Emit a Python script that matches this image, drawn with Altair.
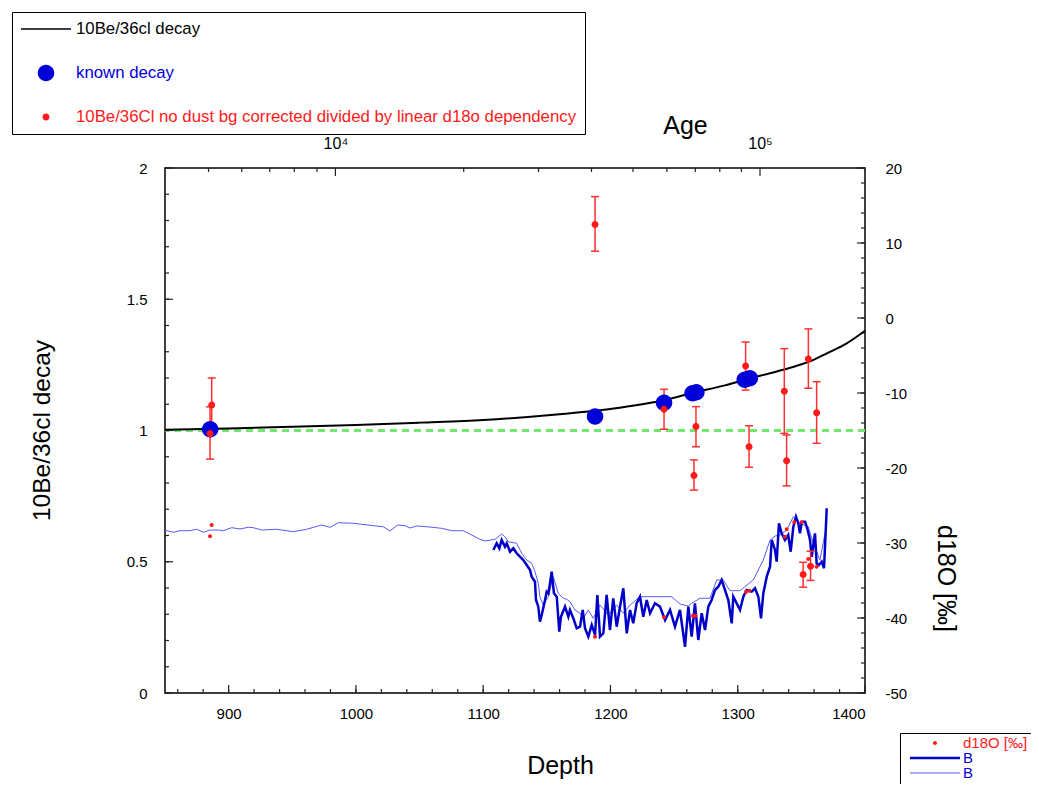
import altair as alt
import pandas as pd

FONT = "Liberation Sans"
RED = "#ff1a1a"
ERR_RED = "#ff3030"
BLUE = "#0000d8"
LINE_DARK = "#0000c8"
LINE_LIGHT = "#5a5af0"
GREEN = "#70e870"
TICK = "#222222"

L_DECAY = "10Be/36cl decay"
L_KNOWN = "known decay"
L_RED = "10Be/36Cl no dust bg corrected divided by linear d18o dependency"
L_D18O = "d18O [‰]"
L_B1 = "B1"
L_B2 = "B2"

# ---- 10Be/36Cl decay curve ----
curve_depth = [850, 900, 950, 1000, 1050, 1100, 1160, 1200, 1240, 1265, 1290, 1307, 1330, 1344, 1360, 1370, 1385, 1400]
curve_val = [1.003, 1.008, 1.014, 1.021, 1.030, 1.040, 1.062, 1.082, 1.113, 1.144, 1.172, 1.195, 1.224, 1.243, 1.270, 1.294, 1.330, 1.380]

# ---- known decay points ----
known_depth = [885.5, 1187.9, 1242.1, 1264.5, 1267.5, 1305.5, 1309.5]
known_val = [1.005, 1.053, 1.106, 1.142, 1.146, 1.193, 1.199]

# ---- 10Be/36Cl measurements with error bars ----
be_depth = [886.7, 885.4, 1187.9, 1242.1, 1267.2, 1265.6, 1306.2, 1308.9, 1336.6, 1338.4, 1355.5, 1362.0, 1351.4, 1357.2]
be_val = [1.097, 0.989, 1.785, 1.081, 1.015, 0.829, 1.246, 0.938, 1.150, 0.885, 1.272, 1.068, 0.451, 0.483]
be_lo = [1.000, 0.891, 1.683, 1.005, 0.938, 0.773, 1.154, 0.860, 0.989, 0.789, 1.161, 0.951, 0.403, 0.429]
be_hi = [1.200, 1.090, 1.891, 1.157, 1.091, 0.888, 1.337, 1.018, 1.312, 0.983, 1.387, 1.186, 0.498, 0.540]

# ---- d18O at sample depths ----
d18o_pt_depth = [886.7, 885.4, 1187.9, 1242.1, 1264.8, 1266.8, 1306.5, 1309.1, 1337.1, 1338.5, 1344.4, 1350.3, 1355.4, 1362.0]
d18o_pt_val = [-27.6, -29.11, -42.49, -39.91, -39.7, -39.7, -36.53, -36.36, -29.16, -28.17, -27.24, -27.24, -32.13, -33.16]

# ---- d18O record, low resolution (thin line) ----
thin = [(850.0, -28.3), (856.5, -28.57), (861.8, -28.36), (869.6, -28.36), (874.9, -28.17), (880.1, -28.57),
        (885.4, -28.27), (891.9, -28.27), (895.8, -28.36), (902.4, -27.96), (908.9, -28.13), (915.4, -27.91),
        (919.4, -27.96), (926.0, -28.27), (937.8, -28.17), (950.8, -28.49), (961.3, -28.17), (973.1, -27.6),
        (979.6, -27.91), (986.2, -27.29), (997.9, -27.37), (1004.6, -27.51), (1013.7, -27.69), (1021.5, -27.83),
        (1026.8, -28.4), (1032.8, -27.6), (1038.6, -27.69), (1042.5, -28.0), (1047.8, -27.73), (1055.6, -27.83),
        (1067.4, -28.04), (1075.3, -28.36), (1084.4, -28.36), (1097.5, -29.51), (1101.4, -29.73), (1109.3, -29.51),
        (1114.5, -28.8), (1117.1, -29.16), (1119.7, -29.83), (1126.3, -30.04), (1130.3, -31.37), (1134.2, -32.27),
        (1138.1, -32.71), (1140.7, -33.83), (1143.3, -35.37), (1144.6, -37.16), (1147.2, -38.27), (1151.2, -37.16),
        (1155.1, -34.49), (1159.0, -36.71), (1162.9, -37.37), (1165.6, -37.51), (1168.2, -37.83), (1172.1, -38.93),
        (1176.1, -39.37), (1178.7, -40.04), (1182.6, -38.93), (1186.5, -40.04), (1191.8, -38.27), (1198.3, -39.6),
        (1204.9, -38.27), (1210.1, -39.37), (1215.4, -38.27), (1223.2, -37.16), (1248.1, -37.16), (1254.6, -38.13),
        (1261.2, -38.4), (1263.8, -38.04), (1270.4, -37.37), (1278.2, -37.37), (1283.5, -34.93), (1288.6, -34.93),
        (1293.9, -36.36), (1301.8, -36.36), (1312.2, -34.93), (1320.1, -32.27), (1325.4, -29.6), (1329.3, -29.07),
        (1333.2, -28.93), (1338.5, -28.27), (1343.7, -26.49), (1348.9, -27.37), (1355.4, -27.83), (1359.4, -30.04),
        (1364.6, -32.27), (1368.6, -28.71)]

# ---- d18O record, high resolution (thick line) ----
thick = [(1108.0, -30.93), (1110.6, -30.04), (1112.7, -30.71), (1114.5, -29.6), (1117.1, -30.49), (1118.5, -30.04),
         (1121.1, -31.16), (1123.7, -30.71), (1126.3, -31.37), (1128.9, -31.83), (1131.5, -32.27), (1134.2, -32.93),
         (1136.8, -33.6), (1138.1, -34.49), (1140.7, -35.16), (1141.5, -37.6), (1143.3, -38.49), (1144.6, -40.49),
         (1146.0, -39.6), (1148.6, -37.6), (1149.9, -36.49), (1151.2, -36.71), (1152.5, -35.37), (1153.8, -33.83),
         (1155.6, -36.71), (1157.8, -37.16), (1159.8, -41.83), (1161.1, -39.83), (1164.3, -38.49), (1166.9, -39.83),
         (1168.2, -38.93), (1170.8, -40.04), (1173.5, -41.37), (1176.1, -41.16), (1178.2, -38.93), (1180.0, -41.37),
         (1182.6, -42.49), (1185.3, -40.93), (1187.9, -42.27), (1189.7, -36.93), (1191.8, -42.49), (1194.4, -42.04),
         (1197.0, -36.93), (1199.6, -41.6), (1202.2, -37.37), (1204.9, -41.16), (1207.5, -38.49), (1210.1, -36.04),
         (1212.8, -42.04), (1215.4, -38.93), (1217.9, -40.71), (1220.6, -38.04), (1223.2, -37.16), (1225.8, -39.83),
         (1228.5, -37.6), (1231.1, -39.37), (1235.0, -38.04), (1238.9, -38.49), (1242.9, -40.27), (1246.8, -38.93),
         (1250.7, -41.16), (1254.6, -38.93), (1258.6, -43.83), (1261.2, -38.49), (1263.8, -42.49), (1266.4, -38.04),
         (1269.0, -42.93), (1271.7, -39.37), (1274.3, -41.6), (1276.9, -38.49), (1279.5, -37.6), (1282.1, -36.27),
         (1284.7, -35.83), (1287.4, -34.93), (1290.0, -36.27), (1292.6, -37.6), (1295.3, -40.71), (1296.5, -37.16),
         (1299.2, -38.04), (1301.8, -38.93), (1304.4, -37.16), (1307.0, -36.27), (1311.0, -36.49), (1313.6, -36.04),
         (1316.2, -37.16), (1318.3, -40.04), (1320.1, -36.71), (1322.8, -34.49), (1325.4, -33.16), (1326.7, -29.6),
         (1329.3, -30.93), (1330.6, -32.49), (1332.4, -27.37), (1334.5, -28.71), (1337.1, -29.6), (1339.7, -28.93),
         (1341.6, -31.16), (1343.7, -27.83), (1345.8, -26.49), (1347.6, -27.37), (1348.9, -28.71), (1350.3, -27.16),
         (1352.9, -27.16), (1354.6, -28.04), (1356.8, -29.6), (1358.1, -31.83), (1360.7, -28.71), (1362.0, -32.71),
         (1363.8, -32.93), (1366.0, -32.49), (1367.8, -33.37), (1369.4, -27.37), (1369.9, -25.37)]

# ---- axis ticks ----
depth_major = [900, 1000, 1100, 1200, 1300, 1400]
depth_minor = list(range(860, 1401, 20))
left_major = [0, 0.5, 1, 1.5, 2]
left_minor = [round(i * 0.1, 1) for i in range(0, 21)]
right_major = [-50, -40, -30, -20, -10, 0, 10, 20]
right_minor = list(range(-50, 21, 2))
age_major_depth = [983.9, 1317.5]
age_major_label = ["10⁴", "10⁵"]
age_minor_depth = [884.2, 910.3, 932.3, 951.6, 969.4, 1084.7, 1143.5, 1185.1, 1217.7, 1244.3, 1266.7, 1285.9, 1302.9]

# ---- tables ----
df_curve = pd.DataFrame({"depth": curve_depth, "value": curve_val})
df_pts = pd.DataFrame({"depth": known_depth + be_depth,
                       "value": known_val + be_val,
                       "series": [L_KNOWN] * len(known_depth) + [L_RED] * len(be_depth)})
df_err = pd.DataFrame({"depth": be_depth, "lo": be_lo, "hi": be_hi})
df_thin = pd.DataFrame(thin, columns=["depth", "d18o"])
df_thick = pd.DataFrame(thick, columns=["depth", "d18o"])
df_dpts = pd.DataFrame({"depth": d18o_pt_depth, "d18o": d18o_pt_val, "series": [L_D18O] * len(d18o_pt_depth)})


def axis(**kw):
    base = dict(labelFont=FONT, titleFont=FONT, labelFontSize=15, titleFontSize=25,
                titleFontWeight="normal", labelColor="black", titleColor="black",
                domain=False, grid=False, ticks=False, tickSize=0, offset=0)
    base.update(kw)
    return alt.Axis(**base)


sx = alt.Scale(domain=[850, 1400], nice=False, zero=False)
sy1 = alt.Scale(domain=[0, 2], nice=False, zero=False)
sy2 = alt.Scale(domain=[-50, 20], nice=False, zero=False)

ax_bottom = axis(orient="bottom", values=depth_major, labelPadding=13,
                 labelExpr="'' + datum.value", title="Depth", titleX=395, titleY=72,
                 titleAlign="center", titleBaseline="middle")
ax_left = axis(orient="left", values=left_major, labelPadding=18,
               labelExpr="'' + datum.value", title="10Be/36cl decay", titleX=-123, titleY=262,
               titleFontSize=24.5, titleAngle=270, titleAlign="center", titleBaseline="middle")
ax_right = axis(orient="right", values=right_major, labelPadding=20,
                labelExpr="'' + datum.value", title="d18O [‰]", titleX=80, titleY=410,
                titleAngle=90, titleAlign="center", titleBaseline="middle")
ax_top = axis(orient="top", values=age_major_depth, labelPadding=17, labelFontSize=16,
              labelExpr=f"datum.value < 1100 ? '{age_major_label[0]}' : '{age_major_label[1]}'",
              title="Age", titleX=520, titleY=-43, titleAngle=0,
              titleAlign="center", titleBaseline="middle")

X1 = alt.X("depth:Q", scale=sx, axis=ax_bottom)
Y1 = alt.Y("value:Q", scale=sy1, axis=ax_left)
X2 = alt.X("depth:Q", scale=sx, axis=ax_top)
Y2 = alt.Y("d18o:Q", scale=sy2, axis=ax_right)

# symbol shapes, all drawn at the same symbol size (unit square = 50 px)
SYM = 2500
line_path = "M-1,-0.03H1V0.03H-1Z"
big_dot = "M-0.33,0A0.33,0.33,0,1,0,0.33,0A0.33,0.33,0,1,0,-0.33,0Z"
red_dot = "M-0.14,0A0.14,0.14,0,1,0,0.14,0A0.14,0.14,0,1,0,-0.14,0Z"
tiny_dot = "M-0.08,0A0.08,0.08,0,1,0,0.08,0A0.08,0.08,0,1,0,-0.08,0Z"
b1_path = "M-1,-0.05H1V0.05H-1Z"
b2_path = "M-1,-0.022H1V0.022H-1Z"

legend1 = alt.Legend(
    orient="none", legendX=-153, legendY=-156, title=None,
    labelFont=FONT, labelFontSize=16.8, labelLimit=1000, labelOffset=5,
    labelColor={"expr": f"datum.value === '{L_KNOWN}' ? '{BLUE}' : (datum.value === '{L_DECAY}' ? '#000000' : '{RED}')"},
    strokeColor="black", fillColor="white", padding=8, rowPadding=26, clipHeight=18,
    symbolSize=SYM, symbolOffset=1, symbolStrokeWidth=0, symbolOpacity=1)

legend2 = alt.Legend(
    orient="none", legendX=735, legendY=565, title=None,
    labelFont=FONT, labelFontSize=15, labelLimit=1000, labelOffset=3,
    labelExpr=f"datum.value === '{L_B1}' || datum.value === '{L_B2}' ? 'B' : datum.label",
    labelColor={"expr": f"datum.value === '{L_D18O}' ? '{RED}' : '{BLUE}'"},
    strokeColor="black", fillColor="white", padding=3, rowPadding=0, clipHeight=14,
    symbolSize=SYM, symbolOffset=7, symbolStrokeWidth=0, symbolOpacity=1)

# ---- tick tables ----
df_lmaj = pd.DataFrame({"v": left_major})
df_lmin = pd.DataFrame({"v": left_minor})
df_bmaj = pd.DataFrame({"v": depth_major})
df_bmin = pd.DataFrame({"v": depth_minor})
df_rmaj = pd.DataFrame({"v": right_major})
df_rmin = pd.DataFrame({"v": right_minor})
df_tmaj = pd.DataFrame({"v": age_major_depth})
df_tmin = pd.DataFrame({"v": age_minor_depth})


def htick(df, length, x_datum, xs, y_scale, x_axis, y_axis, sign):
    return alt.Chart(df).mark_tick(orient="horizontal", size=length, thickness=1.2, color=TICK,
                                   xOffset=sign * length / 2, opacity=1).encode(
        x=alt.XDatum(x_datum, type="quantitative", scale=xs, axis=x_axis),
        y=alt.Y("v:Q", scale=y_scale, axis=y_axis))


def vtick(df, length, y_datum, y_scale, x_axis, y_axis, sign):
    return alt.Chart(df).mark_tick(orient="vertical", size=length, thickness=1.2, color=TICK,
                                   yOffset=sign * length / 2, opacity=1).encode(
        x=alt.X("v:Q", scale=sx, axis=x_axis),
        y=alt.YDatum(y_datum, type="quantitative", scale=y_scale, axis=y_axis))


# ---- main layer (left axis) ----
green = alt.Chart(df_curve).mark_rule(color=GREEN, strokeDash=[7, 5], strokeWidth=1.5).encode(
    y=alt.YDatum(1, scale=sy1, axis=ax_left))
curve = alt.Chart(df_curve).mark_line(color="black", strokeWidth=2, interpolate="monotone").encode(x=X1, y=Y1)
err = alt.Chart(df_err).mark_rule(color=ERR_RED, strokeWidth=1.5).encode(
    x=X1, y=alt.Y("lo:Q", scale=sy1, axis=ax_left), y2="hi:Q")
cap_lo = alt.Chart(df_err).mark_tick(orient="horizontal", color=ERR_RED, size=8, thickness=1.5, opacity=1).encode(
    x=X1, y=alt.Y("lo:Q", scale=sy1, axis=ax_left))
cap_hi = alt.Chart(df_err).mark_tick(orient="horizontal", color=ERR_RED, size=8, thickness=1.5, opacity=1).encode(
    x=X1, y=alt.Y("hi:Q", scale=sy1, axis=ax_left))
pts = alt.Chart(df_pts).mark_point(filled=True, opacity=1, strokeWidth=0, size=SYM).encode(
    x=X1, y=Y1,
    color=alt.Color("series:N", scale=alt.Scale(domain=[L_DECAY, L_KNOWN, L_RED], range=["#000000", BLUE, RED]), legend=legend1),
    shape=alt.Shape("series:N", scale=alt.Scale(domain=[L_DECAY, L_KNOWN, L_RED], range=[line_path, big_dot, red_dot]), legend=legend1),
)
ticks_main = [
    htick(df_lmaj, 8, 850, sx, sy1, ax_bottom, ax_left, 1),
    htick(df_lmin, 4, 850, sx, sy1, ax_bottom, ax_left, 1),
    vtick(df_bmaj, 8, 0, sy1, ax_bottom, ax_left, -1),
    vtick(df_bmin, 4, 0, sy1, ax_bottom, ax_left, -1),
]
main = alt.layer(green, curve, err, cap_lo, cap_hi, pts, *ticks_main)

# ---- d18O layer (right axis) ----
thin_line = alt.Chart(df_thin).mark_line(color=LINE_LIGHT, strokeWidth=1).encode(x=X2, y=Y2)
thick_line = alt.Chart(df_thick).mark_line(color=LINE_DARK, strokeWidth=2.5).encode(x=X2, y=Y2)
dpts = alt.Chart(df_dpts).mark_point(filled=True, opacity=1, strokeWidth=0, size=SYM).encode(
    x=X2, y=Y2,
    color=alt.Color("series:N", scale=alt.Scale(domain=[L_D18O, L_B1, L_B2], range=[RED, LINE_DARK, LINE_LIGHT]), legend=legend2),
    shape=alt.Shape("series:N", scale=alt.Scale(domain=[L_D18O, L_B1, L_B2], range=[tiny_dot, b1_path, b2_path]), legend=legend2),
)
ticks_d18o = [
    htick(df_rmaj, 8, 1400, sx, sy2, ax_top, ax_right, -1),
    htick(df_rmin, 4, 1400, sx, sy2, ax_top, ax_right, -1),
    vtick(df_tmaj, 8, 20, sy2, ax_top, ax_right, 1),
    vtick(df_tmin, 4, 20, sy2, ax_top, ax_right, 1),
]
d18o = alt.layer(thin_line, thick_line, dpts, *ticks_d18o)

chart = alt.layer(d18o, main).resolve_scale(
    x="independent", y="independent", color="independent", shape="independent"
).resolve_legend(
    color="independent", shape="independent"
).properties(
    width=700, height=525,
    padding={"left": 157, "top": 160, "right": 166, "bottom": 91},
    autosize=alt.AutoSizeParams(type="none"),
    background="white",
).configure_view(stroke="black", strokeWidth=1.5)

chart.save("out.html", embed_options={"renderer": "svg", "actions": False})
